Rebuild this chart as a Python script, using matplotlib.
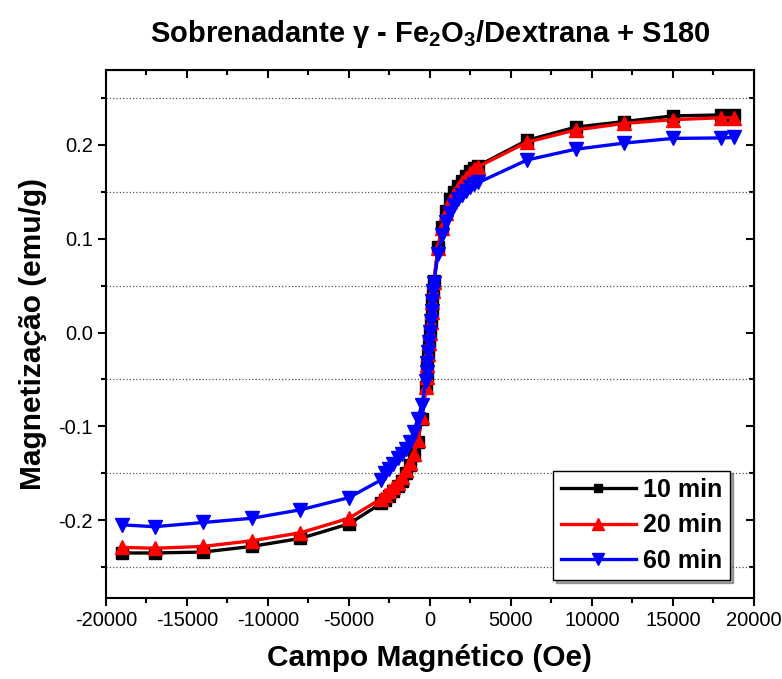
import numpy as np
import matplotlib
matplotlib.use("Agg")
import matplotlib.pyplot as plt
from matplotlib.ticker import MultipleLocator, FormatStrFormatter

plt.rcParams['font.family'] = ['Liberation Sans', 'DejaVu Sans']
plt.rcParams['axes.unicode_minus'] = False
plt.rcParams['mathtext.fontset'] = 'custom'
plt.rcParams['mathtext.rm'] = 'Liberation Sans:bold'
plt.rcParams['mathtext.bf'] = 'Liberation Sans:bold'

# campo aplicado (Oe)
campo = [-19000, -17000, -14000, -11000, -8000, -5000, -3000, -2750, -2500,
         -2250, -2000, -1750, -1500, -1250, -1000, -750, -500, -250, -200,
         -150, -100, -50, 0, 50, 100, 150, 200, 250, 500, 750, 1000, 1250,
         1500, 1750, 2000, 2250, 2500, 2750, 3000, 6000, 9000, 12000, 15000,
         18000, 18800]

# magnetizacao (emu/g)
m_10min = [-0.235, -0.235, -0.234, -0.228, -0.2195, -0.204, -0.182, -0.178,
           -0.174, -0.169, -0.164, -0.158, -0.150, -0.141, -0.131, -0.117,
           -0.092, -0.058, -0.047, -0.035, -0.024, -0.012, 0.0, 0.011, 0.023,
           0.034, 0.045, 0.055, 0.091, 0.113, 0.130, 0.142, 0.150, 0.156,
           0.162, 0.167, 0.172, 0.175, 0.178, 0.205, 0.219, 0.225, 0.231,
           0.232, 0.232]
m_20min = [-0.229, -0.230, -0.228, -0.222, -0.2135, -0.198, -0.177, -0.173,
           -0.169, -0.165, -0.160, -0.154, -0.147, -0.139, -0.129, -0.115,
           -0.090, -0.058, -0.047, -0.035, -0.023, -0.011, 0.0, 0.011, 0.022,
           0.033, 0.044, 0.054, 0.090, 0.112, 0.128, 0.140, 0.148, 0.154,
           0.160, 0.165, 0.170, 0.174, 0.177, 0.203, 0.216, 0.223, 0.227,
           0.229, 0.229]
m_60min = [-0.205, -0.207, -0.2025, -0.198, -0.189, -0.176, -0.157, -0.150,
           -0.145, -0.140, -0.134, -0.129, -0.124, -0.117, -0.106, -0.092,
           -0.077, -0.052, -0.042, -0.032, -0.021, -0.010, 0.001, 0.012, 0.023,
           0.034, 0.044, 0.053, 0.084, 0.104, 0.118, 0.128, 0.136, 0.142,
           0.147, 0.151, 0.155, 0.158, 0.160, 0.184, 0.1955, 0.202, 0.207,
           0.2075, 0.208]

fig = plt.figure(figsize=(7.82, 6.79), dpi=100)
ax = fig.add_axes([0.1355, 0.1193, 0.8285, 0.7777])

ax.plot(campo, m_10min, color='black', marker='s', ms=8, lw=2.4, label='10 min')
ax.plot(campo, m_20min, color='red', marker='^', ms=10, lw=2.4, label='20 min')
ax.plot(campo, m_60min, color='blue', marker='v', ms=10, lw=2.4, label='60 min')

ax.set_xlim(-20000, 20000)
ax.set_ylim(-0.283, 0.28)
ax.xaxis.set_major_locator(MultipleLocator(5000))
ax.xaxis.set_minor_locator(MultipleLocator(2500))
ax.yaxis.set_major_locator(MultipleLocator(0.1))
ax.yaxis.set_minor_locator(MultipleLocator(0.05))
ax.yaxis.set_major_formatter(FormatStrFormatter('%.1f'))
ax.grid(True, which='minor', axis='y', linestyle=':', color='#555555', lw=0.9)

for s in ax.spines.values():
    s.set_linewidth(1.5)
ax.tick_params(which='major', direction='out', length=6, width=1.5, labelsize=14.5)
ax.tick_params(which='minor', direction='out', length=3.5, width=1.5)

# ticks espelhados para dentro (topo e direita)
top = ax.secondary_xaxis('top')
top.xaxis.set_major_locator(MultipleLocator(5000))
top.xaxis.set_minor_locator(MultipleLocator(2500))
top.tick_params(which='major', direction='in', length=6, width=1.5, labeltop=False)
top.tick_params(which='minor', direction='in', length=3.5, width=1.5)
right = ax.secondary_yaxis('right')
right.yaxis.set_major_locator(MultipleLocator(0.1))
right.yaxis.set_minor_locator(MultipleLocator(0.05))
right.tick_params(which='major', direction='in', length=6, width=1.5, labelright=False)
right.tick_params(which='minor', direction='in', length=3.5, width=1.5)

ax.set_xlabel('Campo Magnético (Oe)', fontsize=21.5, fontweight='bold', labelpad=10)
ax.set_ylabel('Magnetização (emu/g)', fontsize=21.5, fontweight='bold', labelpad=8)
ax.set_title('Sobrenadante γ - Fe$_2$O$_3$/Dextrana + S180',
             fontsize=21, fontweight='bold', pad=20)

leg = ax.legend(loc='lower right', bbox_to_anchor=(0.963, 0.034), borderaxespad=0,
                prop={'weight': 'bold', 'size': 18}, handlelength=3.0, markerscale=0.8,
                frameon=True, fancybox=False, shadow=True, edgecolor='black',
                labelspacing=0.45, handletextpad=0.3, borderpad=0.3)
leg.get_frame().set_linewidth(1.0)

fig.savefig('out.png', dpi=100)
